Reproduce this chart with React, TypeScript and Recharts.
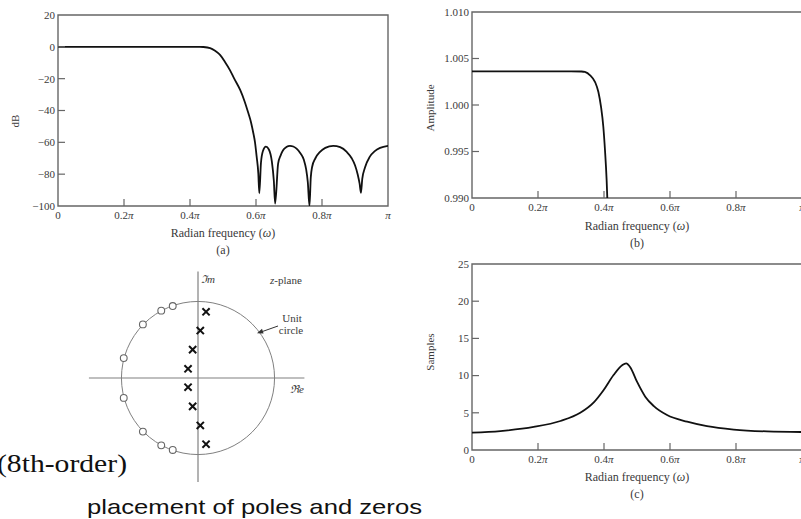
// 8차 타원 저역통과 필터의 감쇠, 통과대역, 군지연 응답과 극점·영점 배치를 한 화면에 그린다.
import {
  Line,
  LineChart,
  ReferenceArea,
  ReferenceDot,
  ReferenceLine,
  Scatter,
  ScatterChart,
  XAxis,
  YAxis,
} from "recharts";

const SERIF = '"Liberation Serif", "Times New Roman", serif';
const SANS = '"Liberation Sans", Arial, sans-serif';
const INK = "#3a3a3a";
const FRAME = "#666";
const CURVE = "#111";

const FREQ_TICKS = [0, 0.2, 0.4, 0.6, 0.8, 1];

// (a) 크기 응답 (dB)
const magFreq = [
  0, 0.1, 0.2, 0.3, 0.4, 0.43, 0.44, 0.461, 0.476, 0.491, 0.506, 0.521, 0.534, 0.552, 0.565, 0.577,
  0.585, 0.592, 0.597, 0.602, 0.607, 0.61, 0.615, 0.621, 0.63, 0.639, 0.648, 0.654, 0.658, 0.667,
  0.675, 0.682, 0.692, 0.703, 0.713, 0.723, 0.735, 0.745, 0.752, 0.757, 0.762, 0.766, 0.77, 0.78,
  0.794, 0.81, 0.834, 0.855, 0.875, 0.89, 0.9, 0.908, 0.914, 0.918, 0.922, 0.93, 0.945, 0.96, 0.976, 1,
];
const magDb = [
  0, 0, 0, 0, 0, 0, -0.1, -0.8, -2.5, -5.1, -9.5, -14.6, -20, -27.1, -34, -41.8,
  -47.5, -54.3, -60, -69, -79.5, -92, -73, -65.5, -62.7, -64.5, -72, -84, -98.5, -73.4,
  -68, -65, -63, -62.2, -62.6, -64, -67, -71, -77, -85, -100, -82, -75.5, -70,
  -66, -63.5, -62.2, -63, -66, -70, -74.4, -80, -86, -91.8, -83, -76, -69, -65.5, -63.5, -62.2,
];
const dbTicks = [20, 0, -20, -40, -60, -80, -100];

// (b) 통과대역 확대 (진폭)
const ampFreq = [0, 0.1, 0.2, 0.3, 0.332, 0.342, 0.358, 0.373, 0.383, 0.391, 0.398, 0.403, 0.408, 0.41];
const ampValue = [
  1.00362, 1.00362, 1.00362, 1.00362, 1.0036, 1.00355, 1.00319, 1.00247, 1.0014, 0.99979, 0.99763,
  0.99513, 0.9919, 0.99,
];
const ampTicks = [1.01, 1.005, 1.0, 0.995, 0.99];

// (c) 군지연 (샘플)
const delayFreq = [
  0, 0.086, 0.187, 0.268, 0.328, 0.369, 0.399, 0.429, 0.455, 0.467, 0.48, 0.5, 0.525, 0.551, 0.591,
  0.652, 0.712, 0.793, 0.894, 1,
];
const delaySamples = [
  2.33, 2.55, 3.1, 3.9, 5.0, 6.4, 8.07, 10.08, 11.4, 11.65, 11.1, 9.18, 7.17, 5.9, 4.7, 3.8, 3.2,
  2.75, 2.5, 2.42,
];
const delayTicks = [25, 20, 15, 10, 5, 0];

// 극점·영점 (z 평면)
const zeroRe = [-0.33, -0.48, -0.72, -0.97, -0.97, -0.72, -0.48, -0.33];
const zeroIm = [0.94, 0.88, 0.7, 0.26, -0.26, -0.7, -0.88, -0.94];
const poleRe = [0.105, 0.03, -0.07, -0.13, -0.13, -0.07, 0.03, 0.105];
const poleIm = [0.865, 0.62, 0.37, 0.12, -0.12, -0.37, -0.62, -0.865];

const PAD_L = 60;
const PAD_T = 8;
const PAD_R = 12;
const PAD_B = 20;

function freqLabel(v: number) {
  if (v === 0) return <tspan>0</tspan>;
  if (v === 1) return <tspan fontStyle="italic">π</tspan>;
  return (
    <>
      <tspan>{v.toFixed(1)}</tspan>
      <tspan fontStyle="italic">π</tspan>
    </>
  );
}

type PanelProps = {
  left: number;
  top: number;
  plotW: number;
  plotH: number;
  freq: number[];
  values: number[];
  yDomain: [number, number];
  yTicks: number[];
  yFormat: (v: number) => string;
};

function FreqPanel({ left, top, plotW, plotH, freq, values, yDomain, yTicks, yFormat }: PanelProps) {
  const data = freq.map((w, i) => ({ w, v: values[i] }));
  const bottom = PAD_T + plotH;
  const isEdgeY = (v: number) => v === yDomain[0] || v === yDomain[1];

  const xTick = (p: any) => {
    const v = p.payload.value as number;
    return (
      <g>
        {v > 0 && v < 1 && <line x1={p.x} x2={p.x} y1={bottom} y2={bottom - 7} stroke={FRAME} strokeWidth={1.2} />}
        <text x={p.x} y={bottom + 12.5} textAnchor="middle" fontFamily={SERIF} fontSize={11} fill={INK}>
          {freqLabel(v)}
        </text>
      </g>
    );
  };

  const yTick = (p: any) => {
    const v = p.payload.value as number;
    return (
      <g>
        {!isEdgeY(v) && <line x1={PAD_L} x2={PAD_L + 7} y1={p.y} y2={p.y} stroke={FRAME} strokeWidth={1.2} />}
        <text x={PAD_L - 3} y={p.y} dy="0.35em" textAnchor="end" fontFamily={SERIF} fontSize={11} fill={INK}>
          {yFormat(v)}
        </text>
      </g>
    );
  };

  return (
    <div style={{ position: "absolute", left: left - PAD_L, top: top - PAD_T }}>
      <LineChart
        width={PAD_L + plotW + PAD_R}
        height={PAD_T + plotH + PAD_B}
        data={data}
        margin={{ top: PAD_T, right: PAD_R, bottom: 0, left: 0 }}
      >
        <XAxis
          dataKey="w"
          type="number"
          domain={[0, 1]}
          ticks={FREQ_TICKS}
          interval={0}
          height={PAD_B}
          axisLine={false}
          tickLine={false}
          tickSize={0}
          tickMargin={0}
          tick={xTick}
          allowDataOverflow
        />
        <YAxis
          type="number"
          domain={yDomain}
          ticks={yTicks}
          interval={0}
          width={PAD_L}
          axisLine={false}
          tickLine={false}
          tickSize={0}
          tickMargin={0}
          tick={yTick}
          allowDataOverflow
        />
        <ReferenceArea x1={0} x2={1} y1={yDomain[0]} y2={yDomain[1]} fill="none" fillOpacity={0} stroke={FRAME} strokeWidth={1.4} />
        <Line dataKey="v" type="monotone" stroke={CURVE} strokeWidth={1.8} dot={false} isAnimationActive={false} />
      </LineChart>
    </div>
  );
}

const PZ_LIM = 1.45;
const PZ_SIZE = 222;
const UNIT_R = PZ_SIZE / (2 * PZ_LIM);

function ZeroMark(p: any) {
  return <circle cx={p.cx} cy={p.cy} r={3.4} fill="#fff" stroke="#666" strokeWidth={1.1} />;
}

function PoleMark(p: any) {
  const s = 3.6;
  return (
    <path
      d={`M${p.cx - s},${p.cy - s}L${p.cx + s},${p.cy + s}M${p.cx + s},${p.cy - s}L${p.cx - s},${p.cy + s}`}
      stroke="#111"
      strokeWidth={2}
    />
  );
}

function PoleZeroPlot() {
  const zeros = zeroRe.map((re, i) => ({ re, im: zeroIm[i] }));
  const poles = poleRe.map((re, i) => ({ re, im: poleIm[i] }));
  return (
    <div style={{ position: "absolute", left: 198 - PZ_SIZE / 2, top: 378 - PZ_SIZE / 2 }}>
      <ScatterChart width={PZ_SIZE} height={PZ_SIZE} margin={{ top: 0, right: 0, bottom: 0, left: 0 }}>
        <XAxis type="number" dataKey="re" domain={[-PZ_LIM, PZ_LIM]} height={0} hide />
        <YAxis type="number" dataKey="im" domain={[-PZ_LIM, PZ_LIM]} width={0} hide />
        <ReferenceLine segment={[{ x: -1.425, y: 0 }, { x: 1.39, y: 0 }]} stroke="#808080" strokeWidth={1.2} />
        <ReferenceLine segment={[{ x: 0, y: -1.36 }, { x: 0, y: 1.39 }]} stroke="#808080" strokeWidth={1.2} />
        <ReferenceDot x={0} y={0} r={UNIT_R} fill="none" fillOpacity={0} stroke="#808080" strokeWidth={1} />
        <Scatter data={zeros} shape={ZeroMark} isAnimationActive={false} />
        <Scatter data={poles} shape={PoleMark} isAnimationActive={false} />
      </ScatterChart>
    </div>
  );
}

function Annotations() {
  const t = { fontFamily: SERIF, fontSize: 11, fill: INK };
  const axisTitle = (cx: number, y: number, cap: string) => (
    <>
      <text x={cx} y={y} textAnchor="middle" {...t} fontSize={12}>
        Radian frequency (<tspan fontStyle="italic">ω</tspan>)
      </text>
      <text x={cx} y={y + 17} textAnchor="middle" {...t} fontSize={12}>
        {cap}
      </text>
    </>
  );
  return (
    <svg width={801} height={519} style={{ position: "absolute", left: 0, top: 0, pointerEvents: "none" }}>
      <text transform="translate(15,121) rotate(-90)" textAnchor="middle" dy="0.35em" {...t}>dB</text>
      <text transform="translate(430,108) rotate(-90)" textAnchor="middle" dy="0.35em" {...t}>Amplitude</text>
      <text transform="translate(430,352) rotate(-90)" textAnchor="middle" dy="0.35em" {...t}>Samples</text>

      {axisTitle(223, 237, "(a)")}
      {axisTitle(637, 230, "(b)")}
      {axisTitle(637, 481, "(c)")}

      <text x={201} y={283} {...t} fontStyle="italic">ℑm</text>
      <text x={270} y={284} {...t}>
        <tspan fontStyle="italic">z</tspan>-plane
      </text>
      <text x={292} y={322} textAnchor="middle" {...t}>Unit</text>
      <text x={291} y={334} textAnchor="middle" {...t}>circle</text>
      <line x1={278} y1={326} x2={261} y2={332} stroke="#333" strokeWidth={1} />
      <polygon points="257,333.3 263.6,333.6 262,328.8" fill="#333" />
      <text x={290} y={393} {...t} fontStyle="italic">ℜe</text>

      <text x={-3} y={472} fontFamily={SERIF} fontSize={25} fill="#111" textLength={130} lengthAdjust="spacingAndGlyphs">
        (8th-order)
      </text>
      <text x={87} y={514} fontFamily={SANS} fontSize={21} fill="#111" textLength={335} lengthAdjust="spacingAndGlyphs">
        placement of poles and zeros
      </text>
    </svg>
  );
}

export default function App() {
  return (
    <div
      style={{
        position: "absolute",
        left: 0,
        top: 0,
        width: 801,
        height: 519,
        overflow: "hidden",
        background: "#fff",
      }}
    >
      <FreqPanel
        left={58}
        top={15}
        plotW={330}
        plotH={191}
        freq={magFreq}
        values={magDb}
        yDomain={[-100, 20]}
        yTicks={dbTicks}
        yFormat={(v) => (v < 0 ? `−${-v}` : `${v}`)}
      />
      <FreqPanel
        left={472}
        top={12}
        plotW={330}
        plotH={186}
        freq={ampFreq}
        values={ampValue}
        yDomain={[0.99, 1.01]}
        yTicks={ampTicks}
        yFormat={(v) => v.toFixed(3)}
      />
      <FreqPanel
        left={472}
        top={264}
        plotW={330}
        plotH={186}
        freq={delayFreq}
        values={delaySamples}
        yDomain={[0, 25]}
        yTicks={delayTicks}
        yFormat={(v) => `${v}`}
      />
      <PoleZeroPlot />
      <Annotations />
    </div>
  );
}
